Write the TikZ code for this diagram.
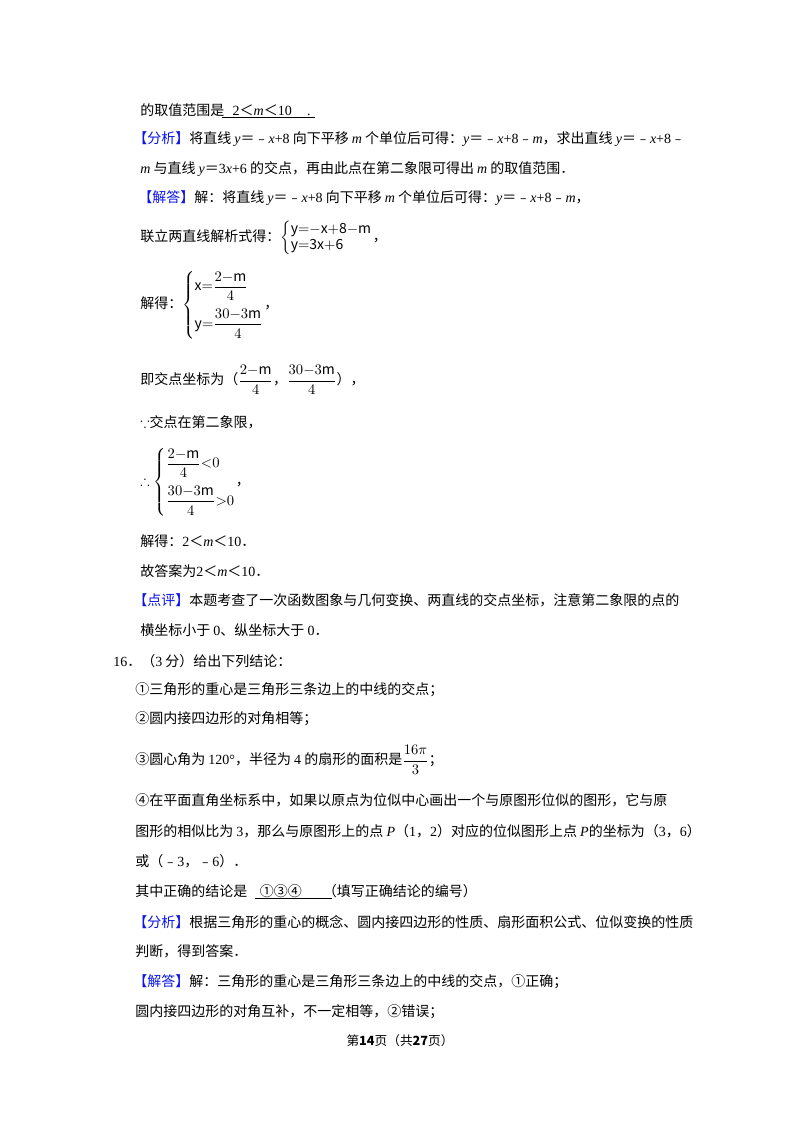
\documentclass[tikz,border=0pt]{standalone}
\usepackage{amsmath,amssymb}
\usepackage{fontspec}
\setmainfont{Noto Sans CJK SC}
\newfontfamily\lat{Liberation Serif}
\newcommand{\mi}[1]{{\lat\itshape #1}}
\newcommand{\nm}[1]{{\lat #1}}
\definecolor{tagblue}{RGB}{10,20,230}
\newcommand{\tagb}[1]{{\color{tagblue}【#1】}}
\begin{document}
\begin{tikzpicture}[x=0.75pt,y=-0.75pt,
  ln/.style={anchor=west,inner sep=0pt,font=\fontsize{10.5pt}{12pt}\selectfont}]
\useasboundingbox[fill=white] (0,0) rectangle (800,1132);
\node[ln] (l1) at (140,110) {的取值范围是\hspace{0.6em}\nm{2}＜\mi{m}＜\nm{10}\hspace{1.1em}\nm{.}};
\draw[line width=0.6pt] (222,117) -- (315,117);
\node[ln] (l2) at (133,139) {\tagb{分析}将直线 \mi{y}＝﹣\mi{x}\nm{+8} 向下平移 \mi{m} 个单位后可得：\mi{y}＝﹣\mi{x}\nm{+8}﹣\mi{m}，求出直线 \mi{y}＝﹣\mi{x}\nm{+8}﹣};
\node[ln] (l3) at (140,169) {\mi{m} 与直线 \mi{y}＝\nm{3}\mi{x}\nm{+6} 的交点，再由此点在第二象限可得出 \mi{m} 的取值范围．};
\node[ln] (l4) at (138,198) {\tagb{解答}解：将直线 \mi{y}＝﹣\mi{x}\nm{+8} 向下平移 \mi{m} 个单位后可得：\mi{y}＝﹣\mi{x}\nm{+8}﹣\mi{m}，};
\node[ln] (l5) at (140,238) {联立两直线解析式得：$\left\{\begin{array}{@{}l@{}}\mathrm{y{=}{-}x{+}8{-}m}\\ \mathrm{y{=}3x{+}6}\end{array}\right.$，};
\node[ln] (l6) at (140,305) {解得：$\left\{\begin{array}{@{}l@{}}\mathrm{x{=}}\dfrac{2{-}\mathrm{m}}{4}\\[10pt] \mathrm{y{=}}\dfrac{30{-}3\mathrm{m}}{4}\end{array}\right.$，};
\node[ln] (l7) at (140,380) {即交点坐标为（$\dfrac{2{-}\mathrm{m}}{4}$，$\dfrac{30{-}3\mathrm{m}}{4}$），};
\node[ln] (l8) at (140,422) {$\because$交点在第二象限，};
\node[ln] (l9) at (140,482) {$\therefore\left\{\begin{array}{@{}l@{}}\dfrac{2{-}\mathrm{m}}{4}{<}0\\[10pt] \dfrac{30{-}3\mathrm{m}}{4}{>}0\end{array}\right.$，};
\node[ln] (l10) at (140,541) {解得：\nm{2}＜\mi{m}＜\nm{10}．};
\node[ln] (l11) at (140,571) {故答案为\nm{2}＜\mi{m}＜\nm{10}．};
\node[ln] (l12) at (133,600) {\tagb{点评}本题考查了一次函数图象与几何变换、两直线的交点坐标，注意第二象限的点的};
\node[ln] (l13) at (140,630) {横坐标小于 \nm{0}、纵坐标大于 \nm{0}．};
\node[ln] (l14) at (113,661) {\nm{16}．（\nm{3} 分）给出下列结论：};
\node[ln] (l15) at (135,690) {①三角形的重心是三角形三条边上的中线的交点；};
\node[ln] (l16) at (135,719) {②圆内接四边形的对角相等；};
\node[ln] (l17) at (135,760) {③圆心角为 \nm{120°}，半径为 \nm{4} 的扇形的面积是$\dfrac{16\pi}{3}$；};
\node[ln] (l18) at (135,800) {④在平面直角坐标系中，如果以原点为位似中心画出一个与原图形位似的图形，它与原};
\node[ln] (l19) at (135,831) {图形的相似比为 \nm{3}，那么与原图形上的点 \mi{P}（\nm{1}，\nm{2}）对应的位似图形上点 \mi{P}的坐标为（\nm{3}，\nm{6}）};
\node[ln] (l20) at (135,861) {或（﹣\nm{3}，﹣\nm{6}）．};
\node[ln] (l21) at (135,891) {其中正确的结论是\hspace{0.9em}①③④\hspace{1.5em}（填写正确结论的编号）};
\draw[line width=0.6pt] (255,898) -- (332,898);
\node[ln] (l22) at (133,922) {\tagb{分析}根据三角形的重心的概念、圆内接四边形的性质、扇形面积公式、位似变换的性质};
\node[ln] (l23) at (135,951) {判断，得到答案．};
\node[ln] (l24) at (133,982) {\tagb{解答}解：三角形的重心是三角形三条边上的中线的交点，①正确；};
\node[ln] (l25) at (135,1012) {圆内接四边形的对角互补，不一定相等，②错误；};
\node[anchor=center,inner sep=0pt,font=\fontsize{9.5pt}{11pt}\selectfont] (ft) at (400,1041) {第\textbf{14}页（共\textbf{27}页）};
\end{tikzpicture}
\end{document}
